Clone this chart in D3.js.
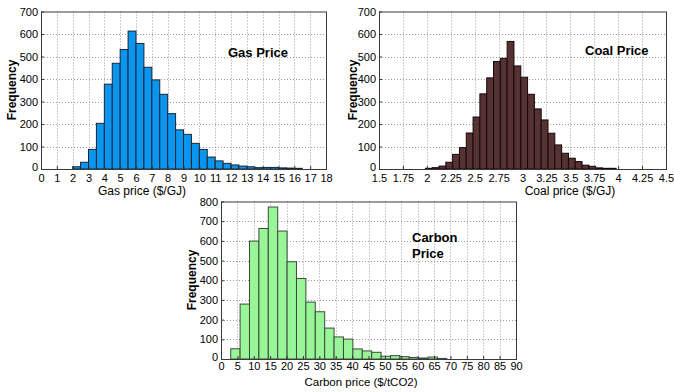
<!DOCTYPE html>
<html>
<head>
<meta charset="utf-8">
<script src="https://cdn.jsdelivr.net/npm/d3@7"></script>
<style>
body { margin: 0; background: #fff; }
svg text { font-family: Arial, "Liberation Sans", Helvetica, sans-serif; fill: #000; }
</style>
</head>
<body>
<svg id="chart" width="674" height="392"></svg>
<script>
// histogram counts
var gasCounts = [10, 30, 87, 203, 377, 470, 531, 613, 558, 452, 396, 332, 246, 174, 154,
                 114, 87, 53, 36, 25, 18, 13, 10, 6, 7, 7, 5, 4, 0, 3];
var gasBinStart = 2, gasBinWidth = 0.5;

var coalCounts = [3, 6, 13, 30, 65, 95, 160, 231, 334, 405, 478, 492, 567, 458, 408,
                  332, 267, 218, 159, 107, 70, 48, 33, 17, 12, 5, 3, 0, 0, 3];
var coalBinStart = 1.985, coalBinWidth = 0.0712;

var carbonCounts = [52, 279, 599, 663, 772, 650, 494, 409, 289, 240, 157, 112, 101, 51,
                    41, 34, 14, 17, 12, 8, 5, 0, 10, 3];
var carbonBinStart = 2.96, carbonBinWidth = 2.867;

// tick labels
var gasTicks = [0, 1, 2, 3, 4, 5, 6, 7, 8, 9, 10, 11, 12, 13, 14, 15, 16, 17, 18];
var coalTicks = [1.5, 1.75, 2, 2.25, 2.5, 2.75, 3, 3.25, 3.5, 3.75, 4, 4.25, 4.5];
var carbonTicks = [0, 5, 10, 15, 20, 25, 30, 35, 40, 45, 50, 55, 60, 65, 70, 75, 80, 85, 90];
var freqTicks700 = [0, 100, 200, 300, 400, 500, 600, 700];
var freqTicks800 = [0, 100, 200, 300, 400, 500, 600, 700, 800];

var svg = d3.select("#chart");

function panel(o) {
	var x = d3.scaleLinear().domain([o.xTicks[0], o.xTicks[o.xTicks.length - 1]]).range([o.left, o.right]);
	var y = d3.scaleLinear().domain([0, o.yTicks[o.yTicks.length - 1]]).range([o.bottom, o.top]);
	var g = svg.append("g");

	// dotted grid
	g.append("g").selectAll("line").data(o.xTicks.slice(1, -1)).join("line")
		.attr("x1", function(d){ return Math.round(x(d)) + 0.5; })
		.attr("x2", function(d){ return Math.round(x(d)) + 0.5; })
		.attr("y1", o.top).attr("y2", o.bottom)
		.attr("stroke", "#9a9a9a").attr("stroke-dasharray", "1,2");
	g.append("g").selectAll("line").data(o.yTicks.slice(1, -1)).join("line")
		.attr("y1", function(d){ return Math.round(y(d)) + 0.5; })
		.attr("y2", function(d){ return Math.round(y(d)) + 0.5; })
		.attr("x1", o.left).attr("x2", o.right)
		.attr("stroke", "#9a9a9a").attr("stroke-dasharray", "1,2");

	// bars
	g.append("g").selectAll("rect").data(o.counts).join("rect")
		.filter(function(d){ return d > 0; })
		.attr("x", function(d, i){ return x(o.binStart + i * o.binWidth); })
		.attr("width", x(o.binWidth) - x(0))
		.attr("y", function(d){ return y(d); })
		.attr("height", function(d){ return y(0) - y(d); })
		.attr("fill", o.fill)
		.attr("stroke", o.edge)
		.attr("stroke-width", 1);

	// axes
	var xa = g.append("g").attr("transform", "translate(0," + o.bottom + ")")
		.call(d3.axisBottom(x).tickValues(o.xTicks).tickFormat(function(d){ return String(d); })
			.tickSize(-3).tickPadding(o.xPad));
	var ya = g.append("g").attr("transform", "translate(" + o.left + ",0)")
		.call(d3.axisLeft(y).tickValues(o.yTicks).tickSize(-3).tickPadding(3));
	[xa, ya].forEach(function(a){
		a.select(".domain").remove();
		a.selectAll("line").attr("stroke", "#333");
		a.selectAll("text").attr("font-size", 11).attr("fill", "#000")
			.style("font-family", "Arial, 'Liberation Sans', sans-serif");
	});
	ya.selectAll("text").filter(function(d){ return d === 0; }).attr("dy", "0.1em");

	// box
	g.append("rect")
		.attr("x", o.left + 0.5).attr("y", o.top + 0.5)
		.attr("width", o.right - o.left).attr("height", o.bottom - o.top)
		.attr("fill", "none").attr("stroke", "#3a3a3a");

	// labels
	g.append("text").text(o.xLabel)
		.attr("x", o.xLabelPos[0]).attr("y", o.xLabelPos[1])
		.attr("text-anchor", "middle").attr("dominant-baseline", "central")
		.attr("font-size", o.xLabelSize);
	g.append("text").text("Frequency")
		.attr("transform", "translate(" + o.yLabelPos[0] + "," + o.yLabelPos[1] + ") rotate(-90)")
		.attr("text-anchor", "middle").attr("dominant-baseline", "central")
		.attr("font-size", 12).attr("font-weight", "bold");
	o.title.forEach(function(t, i){
		g.append("text").text(t)
			.attr("x", o.titlePos[0]).attr("y", o.titlePos[1] + i * 16)
			.attr("dominant-baseline", "central")
			.attr("font-size", 13).attr("font-weight", "bold");
	});
}

panel({
	counts: gasCounts, binStart: gasBinStart, binWidth: gasBinWidth,
	xTicks: gasTicks, yTicks: freqTicks700,
	left: 41, right: 326, top: 11.5, bottom: 169, xPad: 5,
	fill: "#0a96f0", edge: "#1c2430",
	xLabel: "Gas price ($/GJ)", xLabelPos: [142, 191], xLabelSize: 12,
	yLabelPos: [12, 90],
	title: ["Gas Price"], titlePos: [228, 52]
});

panel({
	counts: coalCounts, binStart: coalBinStart, binWidth: coalBinWidth,
	xTicks: coalTicks, yTicks: freqTicks700,
	left: 379, right: 666, top: 11.5, bottom: 169, xPad: 5,
	fill: "#573232", edge: "#140808",
	xLabel: "Coal price ($/GJ)", xLabelPos: [570, 191], xLabelSize: 12,
	yLabelPos: [353, 90],
	title: ["Coal Price"], titlePos: [585, 50]
});

panel({
	counts: carbonCounts, binStart: carbonBinStart, binWidth: carbonBinWidth,
	xTicks: carbonTicks, yTicks: freqTicks800,
	left: 221, right: 516, top: 201.5, bottom: 359, xPad: 3,
	fill: "#98f598", edge: "#3c4a3c",
	xLabel: "Carbon price ($/tCO2)", xLabelPos: [361, 382], xLabelSize: 11.5,
	yLabelPos: [192, 280],
	title: ["Carbon", "Price"], titlePos: [412, 237]
});
</script>
</body>
</html>
